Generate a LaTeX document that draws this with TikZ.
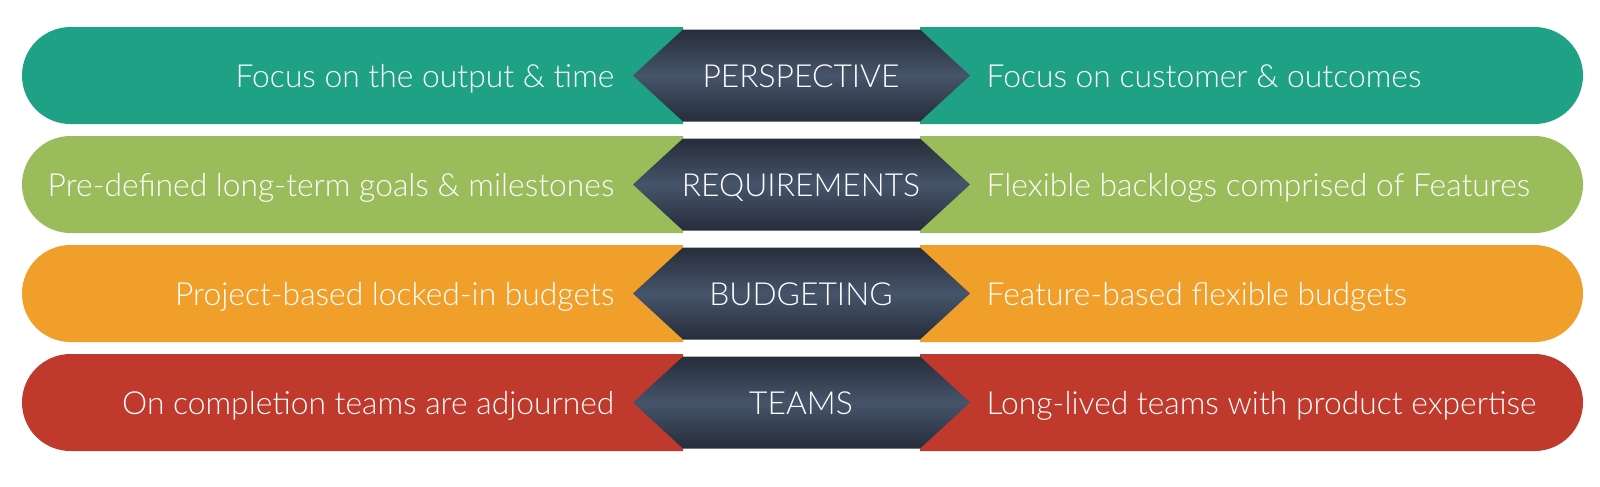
\documentclass[tikz,border=0pt]{standalone}
\usepackage{fontspec}
\setmainfont{Lato Light}
\usetikzlibrary{positioning,calc}
\definecolor{rowteal}{RGB}{31,161,134}
\definecolor{rowgreen}{RGB}{155,188,91}
\definecolor{roworange}{RGB}{240,160,42}
\definecolor{rowred}{RGB}{192,57,45}
\definecolor{hexdark}{RGB}{38,45,58}
\definecolor{hexmid}{RGB}{70,84,106}

\begin{document}
\begin{tikzpicture}[x=0.1mm,y=0.1mm,
    txt/.style={text=white,inner sep=0pt,font=\fontsize{9.05}{11}\selectfont},
    lefttxt/.style={txt,anchor=base east},
    righttxt/.style={txt,anchor=base west},
    midtxt/.style={txt,anchor=base}]
    \useasboundingbox (0,0) rectangle (1600,486);

    % Linhas
    \foreach \yc/\col/\mid/\lt/\rt [count=\i] in {
        410.5/rowteal/PERSPECTIVE/{Focus on the output \& time}/{Focus on customer \& outcomes},
        301.5/rowgreen/REQUIREMENTS/{Pre-defined long-term goals \& milestones}/{Flexible backlogs comprised of Features},
        192.5/roworange/BUDGETING/{Project-based locked-in budgets}/{Feature-based flexible budgets},
        83.5/rowred/TEAMS/{On completion teams are adjourned}/{Long-lived teams with product expertise}}{
        \fill[\col] (683,\yc+48.5) -- (70.5,\yc+48.5) arc (90:270:48.5) -- (683,\yc-48.5) -- cycle;
        \fill[\col] (920,\yc+48.5) -- (1534.5,\yc+48.5) arc (90:-90:48.5) -- (920,\yc-48.5) -- cycle;
        % Hexagono
        \shade[top color=hexdark,bottom color=hexdark,middle color=hexmid]
            (633,\yc) -- (683,\yc+46) -- (920,\yc+46) -- (970,\yc) -- (920,\yc-46) -- (683,\yc-46) -- cycle;
        \node[lefttxt] (left\i) at (615,\yc-12) {\lt};
        \node[midtxt] (mid\i) at (801,\yc-12) {\mid};
        \node[righttxt] (right\i) at (986,\yc-12) {\rt};
    }
\end{tikzpicture}
\end{document}
